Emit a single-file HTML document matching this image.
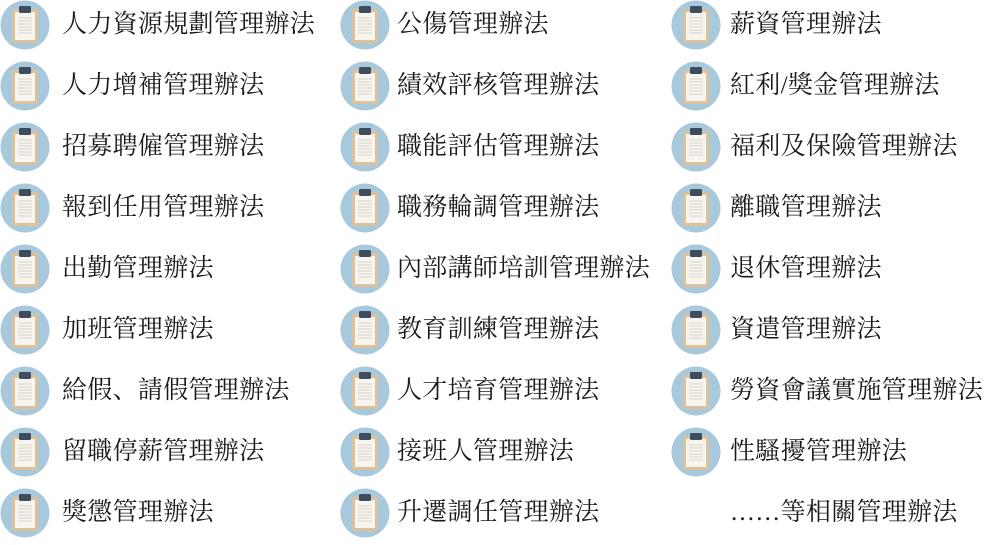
<!DOCTYPE html>
<html><head><meta charset="utf-8"><style>
body{margin:0;width:1000px;height:545px;background:#fff;position:relative;overflow:hidden}
.t{position:absolute;font-family:"Liberation Serif","Noto Serif CJK SC","Noto Sans CJK TC",serif;font-size:25px;letter-spacing:0.3px;color:#1a1a1a;line-height:30px;white-space:nowrap}
svg.i{position:absolute;width:50px;height:50px}
</style></head><body>
<svg width="0" height="0" style="position:absolute"><defs><symbol id="ic" viewBox="0 0 50 50">
<circle cx="25" cy="25" r="24.5" fill="#a8c8dc"/>
<rect x="12" y="9" width="26" height="34" rx="2" fill="#dcc29c"/>
<rect x="15" y="12" width="20" height="28" fill="#f7f5ef"/>
<rect x="19" y="6" width="12" height="7" rx="1.5" fill="#3e4c5e"/>
<g stroke="#d8d4c8" stroke-width="1"><line x1="18" y1="18" x2="32" y2="18"/><line x1="18" y1="21" x2="32" y2="21"/><line x1="18" y1="24" x2="32" y2="24"/><line x1="18" y1="27" x2="32" y2="27"/><line x1="18" y1="30" x2="32" y2="30"/><line x1="18" y1="33" x2="32" y2="33"/></g>
</symbol></defs></svg>
<div id="c"></div>
<script>
var cols=[[0,62,["人力資源規劃管理辦法","人力增補管理辦法","招募聘僱管理辦法","報到任用管理辦法","出勤管理辦法","加班管理辦法","給假、請假管理辦法","留職停薪管理辦法","獎懲管理辦法"]],
[340,397,["公傷管理辦法","績效評核管理辦法","職能評估管理辦法","職務輪調管理辦法","內部講師培訓管理辦法","教育訓練管理辦法","人才培育管理辦法","接班人管理辦法","升遷調任管理辦法"]],
[671,730,["薪資管理辦法","紅利/獎金管理辦法","福利及保險管理辦法","離職管理辦法","退休管理辦法","資遣管理辦法","勞資會議實施管理辦法","性騷擾管理辦法","……等相關管理辦法"]]];
var h="";
cols.forEach(function(c,ci){c[2].forEach(function(s,r){var y=25+r*61;
if(!(ci==2&&r==8))h+='<svg class="i" style="left:'+c[0]+'px;top:'+(y-25)+'px"><use href="#ic"/></svg>';
h+='<div class="t" style="left:'+c[1]+'px;top:'+(y-15)+'px">'+s+'</div>';});});
document.getElementById("c").innerHTML=h;
</script>
</body></html>
